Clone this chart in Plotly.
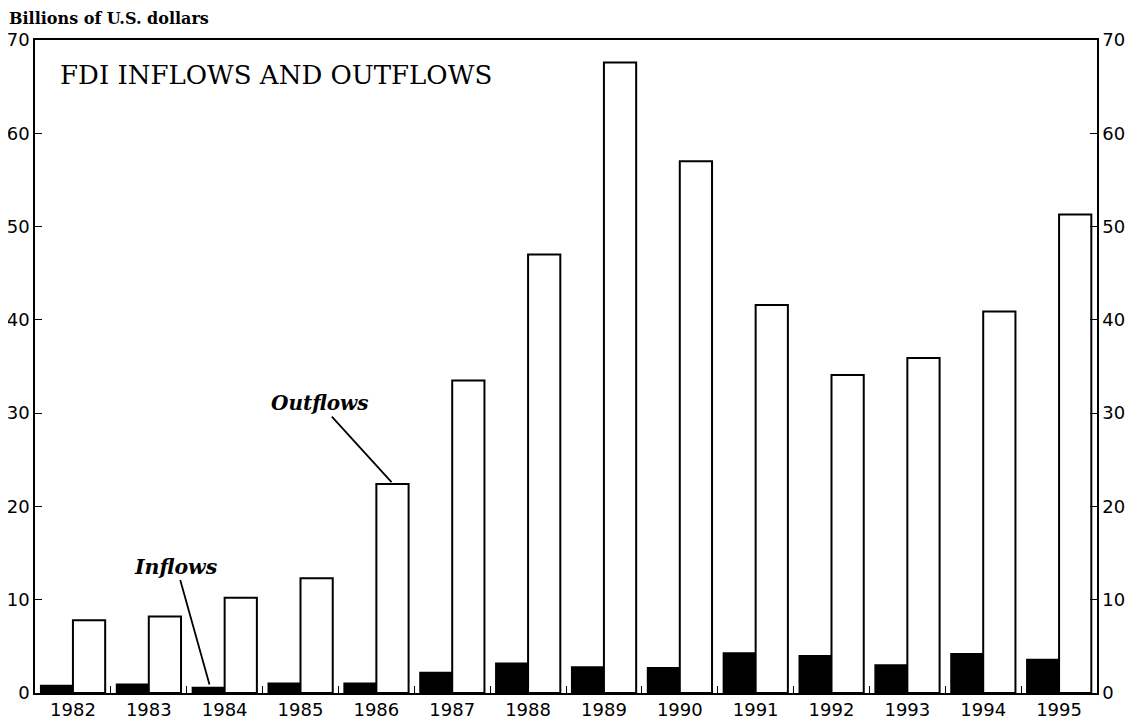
import plotly.graph_objects as go

years = ["1982", "1983", "1984", "1985", "1986", "1987", "1988",
         "1989", "1990", "1991", "1992", "1993", "1994", "1995"]
inflows = [0.8, 0.95, 0.6, 1.05, 1.05, 2.2, 3.2, 2.8, 2.7, 4.3, 4.0, 3.0, 4.2, 3.6]
outflows = [7.8, 8.2, 10.2, 12.3, 22.4, 33.5, 47.0, 67.6, 57.0, 41.6, 34.1, 35.9, 40.9, 51.3]
y_ticks = [0, 10, 20, 30, 40, 50, 60, 70]

tick_font = dict(family="DejaVu Sans, Arial, sans-serif", size=18, color="black")
serif = "DejaVu Serif, Liberation Serif, serif"

fig = go.Figure()
fig.add_trace(go.Bar(x=years, y=inflows, name="Inflows",
                     marker=dict(color="black", line=dict(color="black", width=1.5))))
fig.add_trace(go.Bar(x=years, y=outflows, name="Outflows",
                     marker=dict(color="white", line=dict(color="black", width=2))))
fig.add_trace(go.Scatter(x=years, y=outflows, yaxis="y2", mode="markers",
                         marker=dict(opacity=0), hoverinfo="skip", showlegend=False))

fig.update_layout(
    width=1131, height=714,
    margin=dict(l=27, r=42, t=32, b=29, autoexpand=False),
    paper_bgcolor="white", plot_bgcolor="white",
    barmode="group", bargap=0.15, bargroupgap=0,
    showlegend=False,
    xaxis=dict(type="category", range=[-0.5, len(years) - 0.5], showline=True,
               linecolor="black", linewidth=1.5,
               mirror=True, ticks="inside", tickson="boundaries", ticklen=7,
               tickcolor="black", showgrid=False, tickfont=tick_font, automargin=False),
    yaxis=dict(range=[0, 70], tickvals=y_ticks, showline=True, linecolor="black",
               linewidth=1.5, ticks="inside", ticklen=7, tickcolor="black",
               showgrid=False, zeroline=False, tickfont=tick_font, automargin=False),
    yaxis2=dict(range=[0, 70], tickvals=y_ticks, overlaying="y", side="right",
                showline=True, linecolor="black", linewidth=1.5, ticks="inside",
                ticklen=7, tickcolor="black", showgrid=False, zeroline=False,
                tickfont=tick_font, automargin=False),
    annotations=[
        dict(text="<b>Billions of U.S. dollars</b>", xref="paper", yref="paper",
             x=-0.025, y=1.0, yshift=32, xanchor="left", yanchor="top",
             borderpad=0, showarrow=False,
             font=dict(family=serif, size=16, color="black")),
        dict(text="FDI INFLOWS AND OUTFLOWS", xref="paper", yref="paper",
             x=0.022, y=0.946, xanchor="left", yanchor="middle", showarrow=False,
             font=dict(family=serif, size=26, color="black")),
        dict(text="<b><i>Inflows</i></b>", x=2 - 0.2, y=inflows[2] + 0.3,
             xref="x", yref="y", ax=-33, ay=-118, showarrow=True, arrowhead=0,
             arrowwidth=1.8, arrowcolor="black",
             font=dict(family=serif, size=20.5, color="black")),
        dict(text="<b><i>Outflows</i></b>", x=4 + 0.2, y=outflows[4] + 0.2,
             xref="x", yref="y", ax=-72, ay=-79, showarrow=True, arrowhead=0,
             arrowwidth=1.8, arrowcolor="black",
             font=dict(family=serif, size=20, color="black")),
    ],
)

fig.write_html("out.html")
